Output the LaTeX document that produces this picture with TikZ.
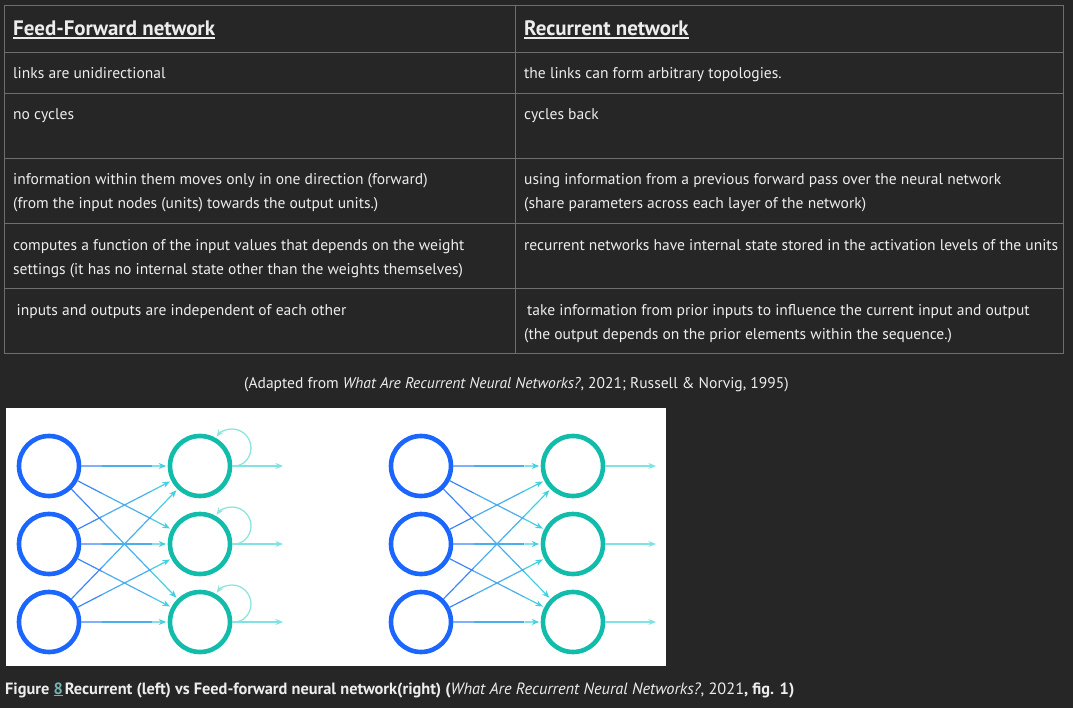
\documentclass[tikz,border=0pt]{standalone}
\usepackage{fontspec}
\setmainfont{PT Sans}
\usetikzlibrary{calc,arrows.meta}
\definecolor{bg}{HTML}{262626}
\definecolor{gridc}{HTML}{6E6E6E}
\definecolor{fg}{HTML}{EDEDED}
\definecolor{inblue}{HTML}{1A66FF}
\definecolor{outteal}{HTML}{12BCAB}
\definecolor{edgeA}{HTML}{3F86F8}
\definecolor{edgeM}{HTML}{4BAEEE}
\definecolor{edgeB}{HTML}{45D0E0}
\definecolor{outarrc}{HTML}{7FE3E6}
\definecolor{loopc}{HTML}{8FE5DD}
\definecolor{linkc}{HTML}{6FB5B0}
\begin{document}
\begin{tikzpicture}[x=1bp,y=-1bp,
  txt/.style={text=fg, inner sep=0pt, anchor=base west, font=\fontsize{15.6}{18}\selectfont},
  head/.style={text=fg, inner sep=0pt, anchor=base west, font=\fontsize{21}{24}\selectfont\bfseries},
  capt/.style={text=fg, inner sep=0pt, anchor=base west, font=\fontsize{16.4}{19}\selectfont\bfseries},
  uline/.style={draw=fg, line width=1.6bp},
  gridline/.style={draw=gridc, line width=1bp},
  inp/.style={circle, draw=inblue, line width=4.6bp, minimum size=60bp, inner sep=0pt, fill=white},
  outp/.style={circle, draw=outteal, line width=4.6bp, minimum size=60bp, inner sep=0pt, fill=white},
  edgea/.style={draw=edgeA, line width=1.2bp},
  edgem/.style={draw=edgeM, line width=1.2bp},
  edgeb/.style={draw=edgeB, line width=1.2bp, -{Stealth[length=7.5bp,width=6bp]}, shorten >=1.5bp},
  outarr/.style={draw=outarrc, line width=1.3bp, -{Stealth[length=7.5bp,width=6bp]}},
  selfloop/.style={draw=loopc, line width=1.3bp, -{Stealth[length=7.5bp,width=6bp]}},
]
\fill[bg] (0,0) rectangle (1073,708);
\useasboundingbox (0,0) rectangle (1073,708);

% table
\draw[gridline] (4.5,5.5) rectangle (1063.5,353.5);
\foreach \yy in {52.5,93.5,158.5,223.5,288.5}
  \draw[gridline] (4.5,\yy) -- (1063.5,\yy);
\draw[gridline] (515.5,5.5) -- (515.5,353.5);

\node[head] (h1) at (13,35.5) {Feed-Forward network};
\node[head] (h2) at (524,35.5) {Recurrent network};
\draw[uline] ($(h1.base west)+(0,2.4)$) -- ($(h1.base east)+(0,2.4)$);
\draw[uline] ($(h2.base west)+(0,2.4)$) -- ($(h2.base east)+(0,2.4)$);

\node[txt] (l1) at (13,79) {links are unidirectional};
\node[txt] (r1) at (524,79) {the links can form arbitrary topologies.};
\node[txt] (l2) at (13,120) {no cycles};
\node[txt] (r2) at (524,120) {cycles back};
\node[txt] (l3a) at (13,185) {information within them moves only in one direction (forward)};
\node[txt] (l3b) at (13,209) {(from the input nodes (units) towards the output units.)};
\node[txt] (r3a) at (524,185) {using information from a previous forward pass over the neural network};
\node[txt] (r3b) at (524,209) {(share parameters across each layer of the network)};
\node[txt] (l4a) at (13,250) {computes a function of the input values that depends on the weight};
\node[txt] (l4b) at (13,274) {settings (it has no internal state other than the weights themselves)};
\node[txt] (r4a) at (524,250) {recurrent networks have internal state stored in the activation levels of the units};
\node[txt] (l5a) at (16.5,315) {inputs and outputs are independent of each other};
\node[txt] (r5a) at (527,315) {take information from prior inputs to influence the current input and output};
\node[txt] (r5b) at (524,339) {(the output depends on the prior elements within the sequence.)};

\node[txt] (src) at (244,388) {(Adapted from \textit{What Are Recurrent Neural Networks?}, 2021; Russell \& Norvig, 1995)};

% figure panel
\fill[white] (6,408) rectangle (666,666);

% left (recurrent) network
\foreach \i/\yy in {1/466,2/544,3/622} {
  \node[inp] (a\i) at (49,\yy) {};
  \node[outp] (b\i) at (200,\yy) {};
  \coordinate (o\i) at (283,\yy);
}
\foreach \i in {1,2,3} \foreach \j in {1,2,3} {
  \draw[edgea] (a\i) -- ($(a\i)!0.35!(b\j)$);
  \draw[edgem] ($(a\i)!0.35!(b\j)$) -- ($(a\i)!0.68!(b\j)$);
  \draw[edgeb] ($(a\i)!0.68!(b\j)$) -- (b\j);
}
\foreach \i in {1,2,3} {
  \draw[outarr] (b\i) -- (o\i);
  \draw[selfloop] (b\i.0)
    .. controls ($(b\i)+(42.5,1)$) and ($(b\i)+(51,-7.5)$) .. ($(b\i)+(51,-18)$)
    .. controls ($(b\i)+(51,-28.5)$) and ($(b\i)+(42.5,-37)$) .. ($(b\i)+(32,-37)$)
    .. controls ($(b\i)+(25.9,-37)$) and ($(b\i)+(20.2,-34.1)$) .. ($(b\i)+(16.6,-29.2)$);
}

% right (feed-forward) network
\foreach \i/\yy in {1/466,2/544,3/622} {
  \node[inp] (c\i) at (421,\yy) {};
  \node[outp] (d\i) at (573,\yy) {};
  \coordinate (p\i) at (656,\yy);
}
\foreach \i in {1,2,3} \foreach \j in {1,2,3} {
  \draw[edgea] (c\i) -- ($(c\i)!0.35!(d\j)$);
  \draw[edgem] ($(c\i)!0.35!(d\j)$) -- ($(c\i)!0.68!(d\j)$);
  \draw[edgeb] ($(c\i)!0.68!(d\j)$) -- (d\j);
}
\foreach \i in {1,2,3}
  \draw[outarr] (d\i) -- (p\i);

% caption
\node[capt] (cap) at (5,694)
  {Figure \textcolor{linkc}{\underline{8}}\hspace{2bp}Recurrent (left) vs Feed-forward neural network(right) (\textmd{\textit{What Are Recurrent Neural Networks?}, 2021}, fig. 1)};
\end{tikzpicture}
\end{document}
